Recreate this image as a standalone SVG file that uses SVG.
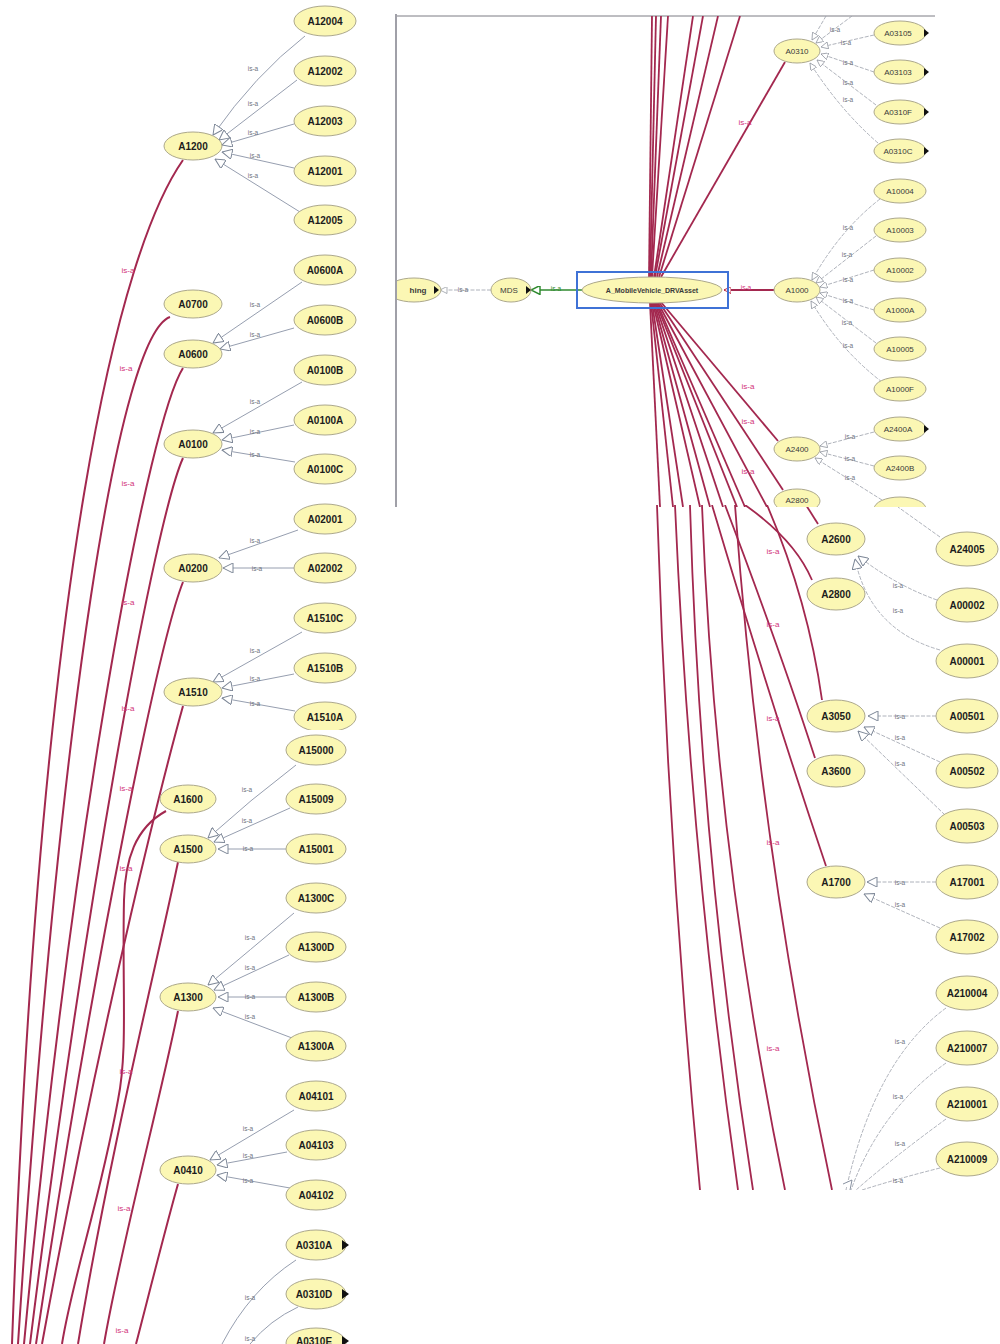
<svg xmlns="http://www.w3.org/2000/svg" width="1000" height="1344" viewBox="0 0 1000 1344">
<style>
.n{fill:#fbf7b4;stroke:#aca88c;stroke-width:1}
.t{font-family:"Liberation Sans",Arial,sans-serif;font-size:10px;font-weight:bold;fill:#1c1c1c;text-anchor:middle;dominant-baseline:central}
.ts{font-family:"Liberation Sans",Arial,sans-serif;font-size:8px;fill:#3a3a3a;text-anchor:middle;dominant-baseline:central}
.g{fill:none;stroke:#8a93a6;stroke-width:0.9}
.gs{fill:none;stroke:#9aa0aa;stroke-width:0.8;stroke-dasharray:4 1.5}
.r{fill:none;stroke:#a3284f;stroke-width:2}
.rs{fill:none;stroke:#a3284f;stroke-width:1.8}
.lg{font-family:"Liberation Sans",Arial,sans-serif;font-size:6.5px;fill:#6f7480;text-anchor:middle;dominant-baseline:central}
.lr{font-family:"Liberation Sans",Arial,sans-serif;font-size:8px;fill:#d2357a;text-anchor:middle;dominant-baseline:central}
.bt{fill:#111}
</style>
<defs>
<marker id="tri" viewBox="0 0 10 10" refX="10" refY="5" markerWidth="11" markerHeight="10" markerUnits="userSpaceOnUse" orient="auto"><path d="M0,0 L10,5 L0,10 z" fill="#fff" stroke="#7d8797" stroke-width="1"/></marker>
<marker id="tris" viewBox="0 0 10 10" refX="10" refY="5" markerWidth="8" markerHeight="7" markerUnits="userSpaceOnUse" orient="auto"><path d="M0,0 L10,5 L0,10 z" fill="#fff" stroke="#8a8f99" stroke-width="1"/></marker>
<marker id="trig" viewBox="0 0 10 10" refX="10" refY="5" markerWidth="10" markerHeight="9" markerUnits="userSpaceOnUse" orient="auto"><path d="M0,0 L10,5 L0,10 z" fill="#fff" stroke="#2f8a2f" stroke-width="1.6"/></marker>
<marker id="trir" viewBox="0 0 10 10" refX="10" refY="5" markerWidth="7" markerHeight="7" markerUnits="userSpaceOnUse" orient="auto"><path d="M0,0 L10,5 L0,10 z" fill="#fff" stroke="#c0304a" stroke-width="1.4"/></marker>
<clipPath id="cL1"><rect x="0" y="0" width="395" height="730"/></clipPath>
<clipPath id="cL2"><rect x="0" y="730" width="395" height="614"/></clipPath>
<clipPath id="cTR"><rect x="397" y="16" width="540" height="491"/></clipPath>
<clipPath id="cBR"><rect x="655" y="505" width="345" height="685"/></clipPath>
</defs>
<rect width="1000" height="1344" fill="#fff"/>
<g id="frame">
<line x1="396" y1="16" x2="935" y2="16" stroke="#7c7c84" stroke-width="1"/>
<line x1="396" y1="14" x2="396" y2="507" stroke="#a0a0a8" stroke-width="2"/>
</g>
<g id="connectors">
<g clip-path="url(#cL1)">
<path class="g" marker-end="url(#tri)" d="M305,36 Q255,75 213,135"/>
<path class="g" marker-end="url(#tri)" d="M297,80 L219,140"/>
<path class="g" marker-end="url(#tri)" d="M294,124 L222,145"/>
<path class="g" marker-end="url(#tri)" d="M294,168 L222,152"/>
<path class="g" marker-end="url(#tri)" d="M300,212 L215,159"/>
<path class="g" marker-end="url(#tri)" d="M302,282 L213,343"/>
<path class="g" marker-end="url(#tri)" d="M294,328 L220,349"/>
<path class="g" marker-end="url(#tri)" d="M302,382 L213,433"/>
<path class="g" marker-end="url(#tri)" d="M294,425 L222,440"/>
<path class="g" marker-end="url(#tri)" d="M295,462 L222,450"/>
<path class="g" marker-end="url(#tri)" d="M298,530 L219,558"/>
<path class="g" marker-end="url(#tri)" d="M294,568 L223,568"/>
<path class="g" marker-end="url(#tri)" d="M302,632 L213,682"/>
<path class="g" marker-end="url(#tri)" d="M294,674 L222,688"/>
<path class="g" marker-end="url(#tri)" d="M295,711 L222,698"/>
<text class="lg" x="253" y="68">is-a</text><text class="lg" x="253" y="103">is-a</text><text class="lg" x="253" y="132">is-a</text><text class="lg" x="255" y="155">is-a</text><text class="lg" x="253" y="175">is-a</text>
<text class="lg" x="255" y="304">is-a</text><text class="lg" x="255" y="334">is-a</text>
<text class="lg" x="255" y="401">is-a</text><text class="lg" x="255" y="431">is-a</text><text class="lg" x="255" y="454">is-a</text>
<text class="lg" x="255" y="540">is-a</text><text class="lg" x="257" y="568">is-a</text>
<text class="lg" x="255" y="650">is-a</text><text class="lg" x="255" y="678">is-a</text><text class="lg" x="255" y="703">is-a</text>
<path class="r" d="M183,160 C120,250 40,560 12,1344"/>
<path class="r" d="M170,317 C120,335 60,700 18,1344"/>
<path class="r" d="M183,368 C150,420 75,800 24,1344"/>
<path class="r" d="M183,458 C155,520 85,900 30,1344"/>
<path class="r" d="M183,582 C160,640 95,950 36,1344"/>
<path class="r" d="M183,706 C168,760 105,1000 42,1344"/>
</g>
<g clip-path="url(#cL2)">
<path class="r" d="M183,160 C120,250 40,560 12,1344"/>
<path class="r" d="M170,317 C120,335 60,700 18,1344"/>
<path class="r" d="M183,368 C150,420 75,800 24,1344"/>
<path class="r" d="M183,458 C155,520 85,900 30,1344"/>
<path class="r" d="M183,582 C160,640 95,950 36,1344"/>
<path class="r" d="M183,706 C168,760 105,1000 42,1344"/>
<path class="r" d="M166,811 C135,828 125,860 124,900 C122,990 128,1050 118,1100 C100,1200 72,1280 62,1344"/>
<path class="r" d="M178,862 C160,950 110,1150 78,1344"/>
<path class="r" d="M178,1011 C160,1100 120,1250 104,1344"/>
<path class="r" d="M178,1184 C165,1230 150,1290 136,1344"/>
<path class="g" marker-end="url(#tri)" d="M296,765 Q250,800 208,838"/>
<path class="g" marker-end="url(#tri)" d="M290,808 L214,842"/>
<path class="g" marker-end="url(#tri)" d="M286,849 L218,849"/>
<path class="g" marker-end="url(#tri)" d="M294,913 Q250,950 208,985"/>
<path class="g" marker-end="url(#tri)" d="M289,955 L214,990"/>
<path class="g" marker-end="url(#tri)" d="M286,997 L218,997"/>
<path class="g" marker-end="url(#tri)" d="M292,1038 L213,1008"/>
<path class="g" marker-end="url(#tri)" d="M294,1110 L210,1160"/>
<path class="g" marker-end="url(#tri)" d="M287,1152 L217,1165"/>
<path class="g" marker-end="url(#tri)" d="M290,1188 L217,1175"/>
<path class="g" d="M296,1260 Q250,1290 222,1344"/>
<path class="g" d="M298,1307 Q270,1320 250,1344"/>
<text class="lg" x="247" y="789">is-a</text><text class="lg" x="247" y="820">is-a</text><text class="lg" x="248" y="848">is-a</text>
<text class="lg" x="250" y="937">is-a</text><text class="lg" x="250" y="967">is-a</text><text class="lg" x="250" y="996">is-a</text><text class="lg" x="250" y="1016">is-a</text>
<text class="lg" x="248" y="1128">is-a</text><text class="lg" x="248" y="1155">is-a</text><text class="lg" x="248" y="1180">is-a</text>
<text class="lg" x="250" y="1297">is-a</text><text class="lg" x="250" y="1338">is-a</text>
</g>
<text class="lr" x="128" y="270">is-a</text>
<text class="lr" x="126" y="368">is-a</text>
<text class="lr" x="128" y="483">is-a</text>
<text class="lr" x="128" y="602">is-a</text>
<text class="lr" x="128" y="708">is-a</text>
<text class="lr" x="126" y="788">is-a</text>
<text class="lr" x="126" y="868">is-a</text>
<text class="lr" x="126" y="1071">is-a</text>
<text class="lr" x="124" y="1208">is-a</text>
<text class="lr" x="122" y="1330">is-a</text>
<g clip-path="url(#cTR)">
<path class="rs" d="M649,277 L652,16"/>
<path class="rs" d="M650,277 L656,16"/>
<path class="rs" d="M651,277 L661,16"/>
<path class="rs" d="M652,277 L668,16"/>
<path class="rs" d="M654,277 L693,16"/>
<path class="rs" d="M655,277 L703,16"/>
<path class="rs" d="M657,277 L718,16"/>
<path class="rs" d="M659,277 L740,16"/>
<path class="rs" d="M661,277 L785,62"/>
<path class="rs" d="M650,303 L660,507"/>
<path class="rs" d="M651,303 L673,507"/>
<path class="rs" d="M652,303 L683,507"/>
<path class="rs" d="M653,303 L700,507"/>
<path class="rs" d="M654,303 L710,507"/>
<path class="rs" d="M655,303 L723,507"/>
<path class="rs" d="M656,303 L737,507"/>
<path class="rs" d="M657,303 L745,507"/>
<path class="rs" d="M658,303 L767,507"/>
<path class="rs" d="M660,301 L778,441"/>
<path class="rs" d="M659,302 L783,490"/>
<path class="rs" marker-end="url(#trir)" d="M775,290 L724,290"/>
<path fill="none" stroke="#2f8a2f" stroke-width="1.6" marker-end="url(#trig)" d="M582,290 L531,290"/>
<path class="gs" marker-end="url(#tris)" d="M491,290 L440,290"/>
<path class="gs" marker-end="url(#tris)" d="M826,16 L812,40"/>
<path class="gs" marker-end="url(#tris)" d="M852,16 L816,43"/>
<path class="gs" marker-end="url(#tris)" d="M874,35 L821,47"/>
<path class="gs" marker-end="url(#tris)" d="M874,72 L821,54"/>
<path class="gs" marker-end="url(#tris)" d="M876,105 L817,60"/>
<path class="gs" marker-end="url(#tris)" d="M878,143 Q840,110 810,63"/>
<path class="gs" marker-end="url(#tris)" d="M880,199 Q840,230 812,280"/>
<path class="gs" marker-end="url(#tris)" d="M876,236 L816,283"/>
<path class="gs" marker-end="url(#tris)" d="M874,270 L820,287"/>
<path class="gs" marker-end="url(#tris)" d="M874,310 L820,293"/>
<path class="gs" marker-end="url(#tris)" d="M876,343 L816,297"/>
<path class="gs" marker-end="url(#tris)" d="M882,382 Q840,350 811,301"/>
<path class="gs" marker-end="url(#tris)" d="M874,432 L820,446"/>
<path class="gs" marker-end="url(#tris)" d="M874,466 L820,452"/>
<path class="gs" marker-end="url(#tris)" d="M882,500 L815,458"/>
<text class="lg" x="463" y="289">is-a</text>
<text class="lg" x="556" y="288" style="fill:#2f8a2f">is-a</text>
<text class="lr" x="746" y="287" style="font-size:6.5px">is-a</text>
<text class="lr" x="745" y="122">is-a</text>
<text class="lr" x="748" y="386">is-a</text>
<text class="lr" x="748" y="421">is-a</text>
<text class="lr" x="748" y="471">is-a</text>
<text class="lg" x="835" y="29">is-a</text><text class="lg" x="846" y="42">is-a</text><text class="lg" x="848" y="62">is-a</text><text class="lg" x="848" y="82">is-a</text><text class="lg" x="848" y="99">is-a</text>
<text class="lg" x="848" y="227">is-a</text><text class="lg" x="847" y="254">is-a</text><text class="lg" x="848" y="279">is-a</text><text class="lg" x="848" y="300">is-a</text><text class="lg" x="847" y="322">is-a</text><text class="lg" x="848" y="345">is-a</text>
<text class="lg" x="850" y="436">is-a</text><text class="lg" x="850" y="458">is-a</text><text class="lg" x="850" y="477">is-a</text>
</g>
<g clip-path="url(#cBR)">
<path class="rs" d="M657,505 Q668,850 700,1190"/>
<path class="rs" d="M675,505 Q690,850 738,1190"/>
<path class="rs" d="M690,505 Q700,850 753,1190"/>
<path class="rs" d="M702,505 Q715,850 785,1190"/>
<path class="rs" d="M735,505 Q760,850 832,1190"/>
<path class="rs" d="M712,505 Q770,700 826,866"/>
<path class="rs" d="M725,505 Q780,650 815,758"/>
<path class="rs" d="M745,505 Q795,540 812,580"/>
<path class="rs" d="M767,505 Q808,600 822,700"/>
<path class="rs" d="M806,505 L818,524"/>
<path class="gs" d="M940,537 L898,507"/>
<path class="gs" marker-end="url(#tri)" d="M937,600 Q895,585 858,556"/>
<path class="gs" marker-end="url(#tri)" d="M940,650 Q870,630 855,559"/>
<path class="gs" marker-end="url(#tri)" d="M936,716 L868,716"/>
<path class="gs" marker-end="url(#tri)" d="M940,762 L864,727"/>
<path class="gs" marker-end="url(#tri)" d="M945,815 L858,731"/>
<path class="gs" marker-end="url(#tri)" d="M936,882 L867,882"/>
<path class="gs" marker-end="url(#tri)" d="M940,928 L864,894"/>
<path class="gs" d="M946,1008 Q875,1060 846,1190"/>
<path class="gs" d="M946,1063 Q880,1110 851,1190"/>
<path class="gs" d="M946,1119 Q890,1160 856,1190"/>
<path class="gs" d="M940,1168 Q900,1178 862,1190"/>
<path d="M843,1184 L852,1180 L850,1190" fill="#fff" stroke="#7d8797" stroke-width="0.9"/>
<text class="lr" x="773" y="551">is-a</text>
<text class="lr" x="773" y="624">is-a</text>
<text class="lr" x="773" y="718">is-a</text>
<text class="lr" x="773" y="842">is-a</text>
<text class="lr" x="773" y="1048">is-a</text>
<text class="lg" x="898" y="585">is-a</text><text class="lg" x="898" y="610">is-a</text>
<text class="lg" x="900" y="716">is-a</text><text class="lg" x="900" y="737">is-a</text><text class="lg" x="900" y="763">is-a</text>
<text class="lg" x="900" y="882">is-a</text><text class="lg" x="900" y="904">is-a</text>
<text class="lg" x="900" y="1041">is-a</text><text class="lg" x="898" y="1096">is-a</text><text class="lg" x="900" y="1143">is-a</text><text class="lg" x="898" y="1180">is-a</text>
</g>
</g>
<g id="nodes">
<g clip-path="url(#cL1)">
<g id="A12004"><ellipse class="n" cx="325" cy="21" rx="31" ry="15"/><text class="t" x="325" y="21">A12004</text></g>
<g id="A12002"><ellipse class="n" cx="325" cy="71" rx="31" ry="15"/><text class="t" x="325" y="71">A12002</text></g>
<g id="A12003"><ellipse class="n" cx="325" cy="121" rx="31" ry="15"/><text class="t" x="325" y="121">A12003</text></g>
<g id="A12001"><ellipse class="n" cx="325" cy="171" rx="31" ry="15"/><text class="t" x="325" y="171">A12001</text></g>
<g id="A12005"><ellipse class="n" cx="325" cy="220" rx="31" ry="15"/><text class="t" x="325" y="220">A12005</text></g>
<g id="A1200"><ellipse class="n" cx="193" cy="146" rx="29" ry="14"/><text class="t" x="193" y="146">A1200</text></g>
<g id="A0600A"><ellipse class="n" cx="325" cy="270" rx="31" ry="15"/><text class="t" x="325" y="270">A0600A</text></g>
<g id="A0600B"><ellipse class="n" cx="325" cy="320" rx="31" ry="15"/><text class="t" x="325" y="320">A0600B</text></g>
<g id="A0700"><ellipse class="n" cx="193" cy="304" rx="29" ry="14"/><text class="t" x="193" y="304">A0700</text></g>
<g id="A0600"><ellipse class="n" cx="193" cy="354" rx="29" ry="14"/><text class="t" x="193" y="354">A0600</text></g>
<g id="A0100B"><ellipse class="n" cx="325" cy="370" rx="31" ry="15"/><text class="t" x="325" y="370">A0100B</text></g>
<g id="A0100A"><ellipse class="n" cx="325" cy="420" rx="31" ry="15"/><text class="t" x="325" y="420">A0100A</text></g>
<g id="A0100C"><ellipse class="n" cx="325" cy="469" rx="31" ry="15"/><text class="t" x="325" y="469">A0100C</text></g>
<g id="A0100"><ellipse class="n" cx="193" cy="444" rx="29" ry="14"/><text class="t" x="193" y="444">A0100</text></g>
<g id="A02001"><ellipse class="n" cx="325" cy="519" rx="31" ry="15"/><text class="t" x="325" y="519">A02001</text></g>
<g id="A02002"><ellipse class="n" cx="325" cy="568" rx="31" ry="15"/><text class="t" x="325" y="568">A02002</text></g>
<g id="A0200"><ellipse class="n" cx="193" cy="568" rx="29" ry="14"/><text class="t" x="193" y="568">A0200</text></g>
<g id="A1510C"><ellipse class="n" cx="325" cy="618" rx="31" ry="15"/><text class="t" x="325" y="618">A1510C</text></g>
<g id="A1510B"><ellipse class="n" cx="325" cy="668" rx="31" ry="15"/><text class="t" x="325" y="668">A1510B</text></g>
<g id="A1510A"><ellipse class="n" cx="325" cy="717" rx="31" ry="15"/><text class="t" x="325" y="717">A1510A</text></g>
<g id="A1510"><ellipse class="n" cx="193" cy="692" rx="29" ry="14"/><text class="t" x="193" y="692">A1510</text></g>
</g>
<g clip-path="url(#cL2)">
<g id="A15000"><ellipse class="n" cx="316" cy="750" rx="30" ry="15"/><text class="t" x="316" y="750">A15000</text></g>
<g id="A15009"><ellipse class="n" cx="316" cy="799" rx="30" ry="15"/><text class="t" x="316" y="799">A15009</text></g>
<g id="A15001"><ellipse class="n" cx="316" cy="849" rx="30" ry="15"/><text class="t" x="316" y="849">A15001</text></g>
<g id="A1600"><ellipse class="n" cx="188" cy="799" rx="28" ry="14"/><text class="t" x="188" y="799">A1600</text></g>
<g id="A1500"><ellipse class="n" cx="188" cy="849" rx="28" ry="14"/><text class="t" x="188" y="849">A1500</text></g>
<g id="A1300C"><ellipse class="n" cx="316" cy="898" rx="30" ry="15"/><text class="t" x="316" y="898">A1300C</text></g>
<g id="A1300D"><ellipse class="n" cx="316" cy="947" rx="30" ry="15"/><text class="t" x="316" y="947">A1300D</text></g>
<g id="A1300B"><ellipse class="n" cx="316" cy="997" rx="30" ry="15"/><text class="t" x="316" y="997">A1300B</text></g>
<g id="A1300A"><ellipse class="n" cx="316" cy="1046" rx="30" ry="15"/><text class="t" x="316" y="1046">A1300A</text></g>
<g id="A1300"><ellipse class="n" cx="188" cy="997" rx="28" ry="14"/><text class="t" x="188" y="997">A1300</text></g>
<g id="A04101"><ellipse class="n" cx="316" cy="1096" rx="30" ry="15"/><text class="t" x="316" y="1096">A04101</text></g>
<g id="A04103"><ellipse class="n" cx="316" cy="1145" rx="30" ry="15"/><text class="t" x="316" y="1145">A04103</text></g>
<g id="A04102"><ellipse class="n" cx="316" cy="1195" rx="30" ry="15"/><text class="t" x="316" y="1195">A04102</text></g>
<g id="A0410"><ellipse class="n" cx="188" cy="1170" rx="28" ry="14"/><text class="t" x="188" y="1170">A0410</text></g>
<g id="A0310A"><ellipse class="n" cx="316" cy="1245" rx="30" ry="15"/><text class="t" x="314" y="1245">A0310A</text><polygon class="bt" points="342,1240 349,1245 342,1250"/></g>
<g id="A0310D"><ellipse class="n" cx="316" cy="1294" rx="30" ry="15"/><text class="t" x="314" y="1294">A0310D</text><polygon class="bt" points="342,1289 349,1294 342,1299"/></g>
<g id="A0310E"><ellipse class="n" cx="316" cy="1343" rx="30" ry="15"/><text class="t" x="314" y="1341">A0310E</text><polygon class="bt" points="342,1336 349,1341 342,1346"/></g>
</g>
<g clip-path="url(#cTR)">
<g id="hing"><ellipse class="n" cx="414" cy="290" rx="27" ry="12"/><text class="ts" x="418" y="290" style="font-weight:bold">hing</text><polygon class="bt" points="434,286 439,290 434,294"/></g>
<g id="MDS"><ellipse class="n" cx="511" cy="290" rx="20" ry="12"/><text class="ts" x="509" y="290">MDS</text><polygon class="bt" points="526,286 531,290 526,294"/></g>
<g id="center"><rect x="577" y="272" width="151" height="36" fill="none" stroke="#3f72d6" stroke-width="2"/><ellipse class="n" cx="652" cy="290" rx="70" ry="13"/><text class="ts" x="652" y="290" style="font-size:7px;font-weight:bold">A_MobileVehicle_DRVAsset</text></g>
<g id="A0310"><ellipse class="n" cx="797" cy="51" rx="23" ry="12"/><text class="ts" x="797" y="51">A0310</text></g>
<g id="A03105"><ellipse class="n" cx="900" cy="33" rx="26" ry="12"/><text class="ts" x="898" y="33">A03105</text><polygon class="bt" points="924,29 929,33 924,37"/></g>
<g id="A03103"><ellipse class="n" cx="900" cy="72" rx="26" ry="12"/><text class="ts" x="898" y="72">A03103</text><polygon class="bt" points="924,68 929,72 924,76"/></g>
<g id="A0310F"><ellipse class="n" cx="900" cy="112" rx="26" ry="12"/><text class="ts" x="898" y="112">A0310F</text><polygon class="bt" points="924,108 929,112 924,116"/></g>
<g id="A0310C"><ellipse class="n" cx="900" cy="151" rx="26" ry="12"/><text class="ts" x="898" y="151">A0310C</text><polygon class="bt" points="924,147 929,151 924,155"/></g>
<g id="A10004"><ellipse class="n" cx="900" cy="191" rx="26" ry="12"/><text class="ts" x="900" y="191">A10004</text></g>
<g id="A10003"><ellipse class="n" cx="900" cy="230" rx="26" ry="12"/><text class="ts" x="900" y="230">A10003</text></g>
<g id="A10002"><ellipse class="n" cx="900" cy="270" rx="26" ry="12"/><text class="ts" x="900" y="270">A10002</text></g>
<g id="A1000A"><ellipse class="n" cx="900" cy="310" rx="26" ry="12"/><text class="ts" x="900" y="310">A1000A</text></g>
<g id="A10005"><ellipse class="n" cx="900" cy="349" rx="26" ry="12"/><text class="ts" x="900" y="349">A10005</text></g>
<g id="A1000F"><ellipse class="n" cx="900" cy="389" rx="26" ry="12"/><text class="ts" x="900" y="389">A1000F</text></g>
<g id="A2400A"><ellipse class="n" cx="900" cy="429" rx="26" ry="12"/><text class="ts" x="898" y="429">A2400A</text><polygon class="bt" points="924,425 929,429 924,433"/></g>
<g id="A2400B"><ellipse class="n" cx="900" cy="468" rx="26" ry="12"/><text class="ts" x="900" y="468">A2400B</text></g>
<g id="A2400C"><ellipse class="n" cx="900" cy="509" rx="26" ry="12"/></g>
<g id="A1000"><ellipse class="n" cx="797" cy="290" rx="23" ry="12"/><text class="ts" x="797" y="290">A1000</text></g>
<g id="A2400"><ellipse class="n" cx="797" cy="449" rx="23" ry="12"/><text class="ts" x="797" y="449">A2400</text></g>
<g id="A2800t"><ellipse class="n" cx="797" cy="501" rx="23" ry="12"/><text class="ts" x="797" y="500">A2800</text></g>
</g>
<g clip-path="url(#cBR)">
<g id="A2600"><ellipse class="n" cx="836" cy="539" rx="29" ry="16"/><text class="t" x="836" y="539">A2600</text></g>
<g id="A2800"><ellipse class="n" cx="836" cy="594" rx="29" ry="16"/><text class="t" x="836" y="594">A2800</text></g>
<g id="A3050"><ellipse class="n" cx="836" cy="716" rx="29" ry="16"/><text class="t" x="836" y="716">A3050</text></g>
<g id="A3600"><ellipse class="n" cx="836" cy="771" rx="29" ry="16"/><text class="t" x="836" y="771">A3600</text></g>
<g id="A1700"><ellipse class="n" cx="836" cy="882" rx="29" ry="16"/><text class="t" x="836" y="882">A1700</text></g>
<g id="A24005"><ellipse class="n" cx="967" cy="549" rx="31" ry="17"/><text class="t" x="967" y="549">A24005</text></g>
<g id="A00002"><ellipse class="n" cx="967" cy="605" rx="31" ry="17"/><text class="t" x="967" y="605">A00002</text></g>
<g id="A00001"><ellipse class="n" cx="967" cy="661" rx="31" ry="17"/><text class="t" x="967" y="661">A00001</text></g>
<g id="A00501"><ellipse class="n" cx="967" cy="716" rx="31" ry="17"/><text class="t" x="967" y="716">A00501</text></g>
<g id="A00502"><ellipse class="n" cx="967" cy="771" rx="31" ry="17"/><text class="t" x="967" y="771">A00502</text></g>
<g id="A00503"><ellipse class="n" cx="967" cy="826" rx="31" ry="17"/><text class="t" x="967" y="826">A00503</text></g>
<g id="A17001"><ellipse class="n" cx="967" cy="882" rx="31" ry="17"/><text class="t" x="967" y="882">A17001</text></g>
<g id="A17002"><ellipse class="n" cx="967" cy="937" rx="31" ry="17"/><text class="t" x="967" y="937">A17002</text></g>
<g id="A210004"><ellipse class="n" cx="967" cy="993" rx="31" ry="17"/><text class="t" x="967" y="993">A210004</text></g>
<g id="A210007"><ellipse class="n" cx="967" cy="1048" rx="31" ry="17"/><text class="t" x="967" y="1048">A210007</text></g>
<g id="A210001"><ellipse class="n" cx="967" cy="1104" rx="31" ry="17"/><text class="t" x="967" y="1104">A210001</text></g>
<g id="A210009"><ellipse class="n" cx="967" cy="1159" rx="31" ry="17"/><text class="t" x="967" y="1159">A210009</text></g>
</g>
</g>
</svg>
